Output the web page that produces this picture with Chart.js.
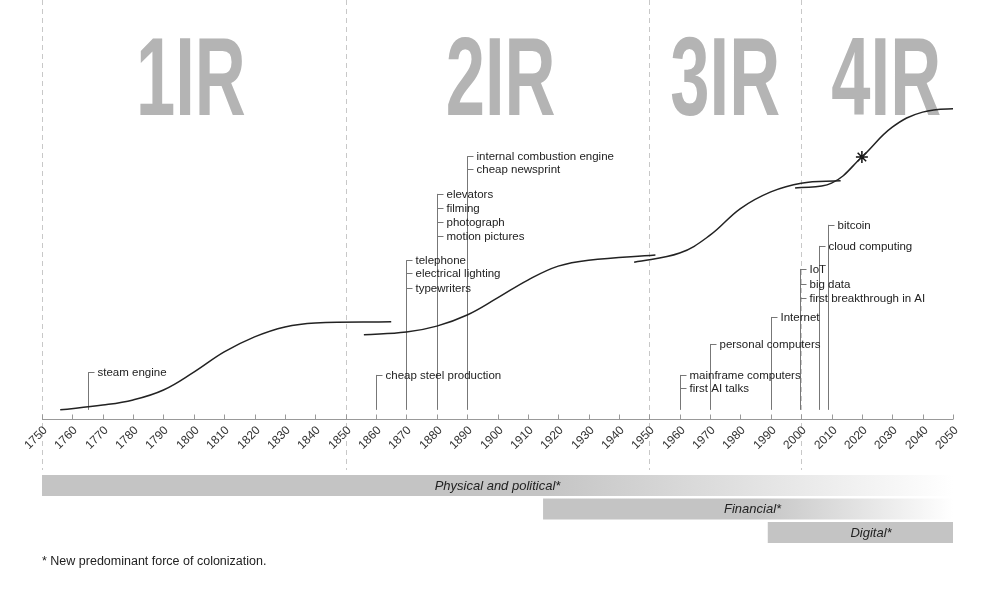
<!DOCTYPE html>
<html>
<head>
<meta charset="utf-8">
<script src="https://cdn.jsdelivr.net/npm/chart.js@4/dist/chart.umd.min.js"></script>
<style>
  html, body { margin: 0; padding: 0; background: #fff; }
  #wrap { width: 1000px; height: 589px; position: relative; }
</style>
</head>
<body>
<div id="wrap"><canvas id="chart"></canvas></div>
<script>
// ---- data ----
const ERA_LABELS = ['1IR', '2IR', '3IR', '4IR'];
const ERA_CENTERS = [1799, 1901, 1975, 2028];
const ERA_BOUNDS = [1750, 1850, 1950, 2000];

const CURVE_1IR = [[1756, 2.3], [1770, 3.5], [1780, 4.8], [1790, 7.3], [1800, 11.8], [1810, 16.9], [1820, 20.7], [1830, 23.2], [1840, 24.2], [1865, 24.5]];
const CURVE_2IR = [[1856, 21.2], [1870, 21.9], [1880, 23.4], [1890, 26.2], [1900, 30.5], [1910, 35], [1920, 38.5], [1930, 40], [1952, 41.3]];
const CURVE_3IR = [[1945, 39.5], [1960, 41.8], [1970, 46.3], [1980, 53], [1990, 57.2], [2000, 59.4], [2013, 60]];
const CURVE_4IR = [[1998, 58.2], [2010, 59.4], [2020, 66], [2030, 73.5], [2040, 77.3], [2053, 78.3]];
const NOW_POINT = [[2020, 66]];

// [year, label, height]
const EVENTS = [
  [1765, 'steam engine', 11.8],
  [1860, 'cheap steel production', 11.1],
  [1870, 'telephone', 40],
  [1870, 'electrical lighting', 36.7],
  [1870, 'typewriters', 33],
  [1880, 'elevators', 56.7],
  [1880, 'filming', 53.2],
  [1880, 'photograph', 49.6],
  [1880, 'motion pictures', 46.1],
  [1890, 'internal combustion engine', 66.2],
  [1890, 'cheap newsprint', 62.9],
  [1960, 'mainframe computers', 11.1],
  [1960, 'first AI talks', 7.8],
  [1970, 'personal computers', 18.9],
  [1990, 'Internet', 25.7],
  [1999.5, 'IoT', 37.8],
  [1999.5, 'big data', 34],
  [1999.5, 'first breakthrough in AI', 30.5],
  [2006, 'cloud computing', 43.6],
  [2009, 'bitcoin', 48.9]
];
const EVENT_BASE = 2.3;

const TICK_YEARS = [];
for (let y = 1750; y <= 2050; y += 10) TICK_YEARS.push(y);

// [label, start, end, fadeFrom, row]
const FORCES = [
  ['Physical and political*', 1750, 2050, 1915, 0],
  ['Financial*', 1915, 2050, 1985, 1],
  ['Digital*', 1989, 2050, 2050, 2]
];
const FORCE_TEXT_AT = [1900, 1984, 2023];
const FOOTNOTE = '* New predominant force of colonization.';

function curve(points) {
  return {
    data: points.map(p => ({ x: p[0], y: p[1] })),
    borderColor: '#222',
    borderWidth: 1.5,
    pointRadius: 0,
    tension: 0.4,
    fill: false
  };
}

const decorPlugin = {
  id: 'decor',
  beforeDatasetsDraw(chart) {
    const { ctx, scales: { x, y }, chartArea } = chart;
    ctx.save();
    // era boundaries
    ctx.strokeStyle = '#c8c8c8';
    ctx.lineWidth = 1;
    ctx.setLineDash([5, 4]);
    ERA_BOUNDS.forEach(b => {
      const px = Math.round(x.getPixelForValue(b)) + 0.5;
      ctx.beginPath(); ctx.moveTo(px, 0); ctx.lineTo(px, 470); ctx.stroke();
    });
    ctx.setLineDash([]);
    // big era titles, squeezed to look condensed
    ctx.fillStyle = '#b4b4b4';
    ctx.font = 'bold 112px "Liberation Sans", Arial, sans-serif';
    ctx.textAlign = 'center';
    ctx.textBaseline = 'alphabetic';
    ERA_LABELS.forEach((t, i) => {
      ctx.save();
      ctx.translate(x.getPixelForValue(ERA_CENTERS[i]), 115);
      ctx.scale(0.63, 1);
      ctx.fillText(t, 0, 0);
      ctx.restore();
    });

    // axis line and ticks
    const ay = chartArea.bottom + 0.5;
    ctx.strokeStyle = '#999';
    ctx.beginPath(); ctx.moveTo(chartArea.left, ay); ctx.lineTo(chartArea.right, ay); ctx.stroke();
    ctx.fillStyle = '#333';
    ctx.font = '12px "Liberation Sans", Arial, sans-serif';
    TICK_YEARS.forEach(t => {
      const px = Math.round(x.getPixelForValue(t)) + 0.5;
      ctx.beginPath(); ctx.moveTo(px, ay); ctx.lineTo(px, ay - 5); ctx.stroke();
      ctx.save();
      ctx.translate(px + 3, ay + 9);
      ctx.rotate(-Math.PI / 4);
      ctx.textAlign = 'right';
      ctx.textBaseline = 'middle';
      ctx.fillText(String(t), 0, 0);
      ctx.restore();
    });

    // event markers
    ctx.strokeStyle = '#777';
    ctx.fillStyle = '#222';
    ctx.font = '11.5px "Liberation Sans", Arial, sans-serif';
    ctx.textAlign = 'left';
    ctx.textBaseline = 'middle';
    const tops = {};
    EVENTS.forEach(e => { tops[e[0]] = Math.max(tops[e[0]] || 0, e[2]); });
    Object.keys(tops).forEach(k => {
      const px = Math.round(x.getPixelForValue(+k)) + 0.5;
      ctx.beginPath();
      ctx.moveTo(px, y.getPixelForValue(EVENT_BASE));
      ctx.lineTo(px, y.getPixelForValue(tops[k]));
      ctx.stroke();
    });
    EVENTS.forEach(e => {
      const px = Math.round(x.getPixelForValue(e[0])) + 0.5;
      const py = Math.round(y.getPixelForValue(e[2])) + 0.5;
      ctx.beginPath(); ctx.moveTo(px, py); ctx.lineTo(px + 6, py); ctx.stroke();
      ctx.fillText(e[1], px + 9, py);
    });

    // forces of colonization
    FORCES.forEach((f, i) => {
      const x0 = x.getPixelForValue(f[1]);
      const x1 = x.getPixelForValue(f[2]);
      const xf = x.getPixelForValue(f[3]);
      const top = 475 + f[4] * 23.5;
      const g = ctx.createLinearGradient(x0, 0, x1, 0);
      const stop = Math.min(1, (xf - x0) / (x1 - x0));
      g.addColorStop(0, '#c4c4c4');
      g.addColorStop(stop, '#c4c4c4');
      g.addColorStop(1, stop < 1 ? '#ffffff' : '#c4c4c4');
      ctx.fillStyle = g;
      ctx.fillRect(x0, top, x1 - x0, 21);
      ctx.fillStyle = '#222';
      ctx.font = 'italic 13px "Liberation Sans", Arial, sans-serif';
      ctx.textAlign = 'center';
      ctx.fillText(f[0], x.getPixelForValue(FORCE_TEXT_AT[i]), top + 11);
    });
    ctx.fillStyle = '#222';
    ctx.font = '12.5px "Liberation Sans", Arial, sans-serif';
    ctx.textAlign = 'left';
    ctx.fillText(FOOTNOTE, chartArea.left, 562);
    ctx.restore();
  }
};

new Chart(document.getElementById('chart'), {
  type: 'line',
  data: {
    datasets: [
      curve(CURVE_1IR),
      curve(CURVE_2IR),
      curve(CURVE_3IR),
      curve(CURVE_4IR),
      {
        type: 'scatter',
        data: NOW_POINT.map(p => ({ x: p[0], y: p[1] })),
        pointStyle: 'star',
        pointRadius: 6,
        borderColor: '#111',
        borderWidth: 1.5,
        backgroundColor: '#111'
      }
    ]
  },
  options: {
    responsive: true,
    maintainAspectRatio: false,
    animation: false,
    layout: { padding: { left: 42, right: 47, top: 22, bottom: 170 } },
    plugins: { legend: { display: false }, tooltip: { enabled: false } },
    scales: {
      x: { type: 'linear', min: 1750, max: 2050, display: false },
      y: { min: 0, max: 100, display: false }
    }
  },
  plugins: [decorPlugin]
});
</script>
</body>
</html>
